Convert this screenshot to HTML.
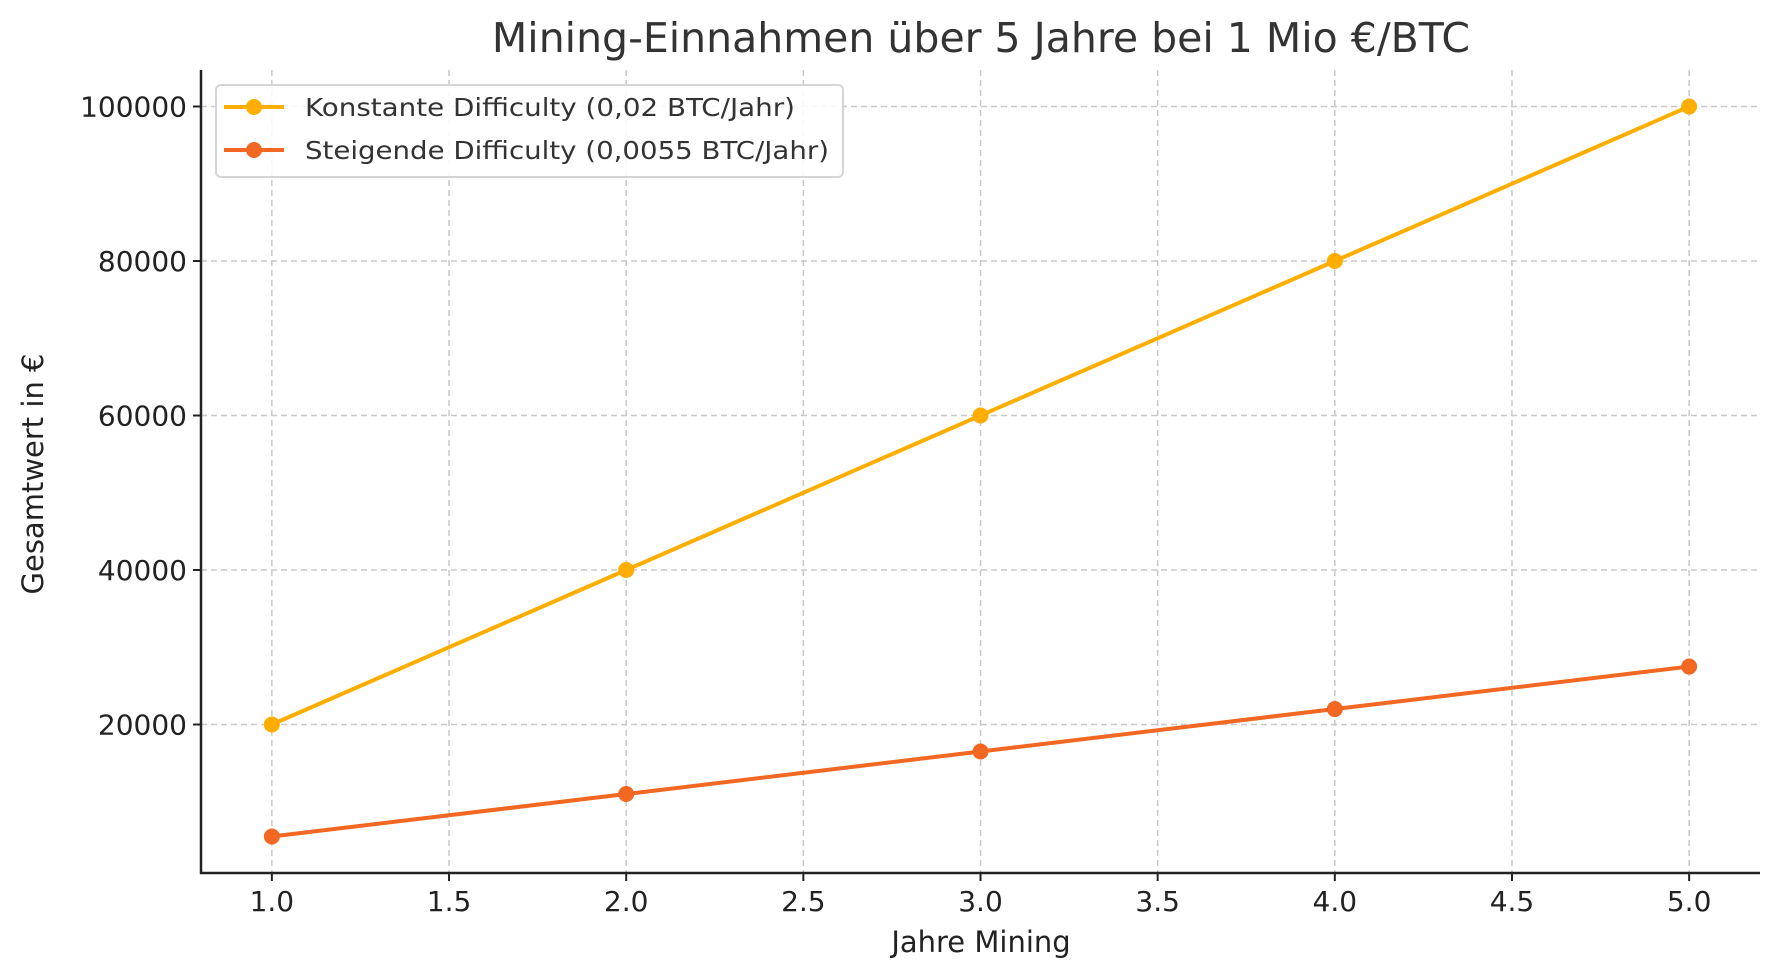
<!DOCTYPE html>
<html><head><meta charset="utf-8"><style>
html,body{margin:0;padding:0;background:#fff;}
svg{display:block;font-family:"DejaVu Sans","Liberation Sans",sans-serif;}
</style></head><body>
<svg id="chart" width="1779" height="980" viewBox="0 0 1779 980">
<rect x="0" y="0" width="1779" height="980" fill="#fff"/>
<text x="981" y="52" font-size="41" text-anchor="middle" fill="#333">Mining-Einnahmen über 5 Jahre bei 1 Mio €/BTC</text>
<g id="grid"></g>
<g id="series"></g>
<g id="axes"></g>
<text x="981" y="952" font-size="29" text-anchor="middle" fill="#222">Jahre Mining</text>
<text x="0" y="0" font-size="29" text-anchor="middle" fill="#222" transform="translate(43,474) rotate(-90)">Gesamtwert in €</text>
<g>
<rect x="216" y="85" width="627" height="92" rx="5" fill="#fff" fill-opacity="0.85" stroke="#d5d5d5" stroke-width="2"/>
<g>
<line x1="224" y1="107" x2="284" y2="107" stroke="#ffae00" stroke-width="4"/>
<circle cx="254" cy="107" r="8" fill="#ffae00"/>
<text x="305" y="116" font-size="25" fill="#333" textLength="490" lengthAdjust="spacingAndGlyphs">Konstante Difficulty (0,02 BTC/Jahr)</text>
</g>
<g>
<line x1="224" y1="150" x2="284" y2="150" stroke="#f26722" stroke-width="4"/>
<circle cx="254" cy="150" r="8" fill="#f26722"/>
<text x="305" y="159" font-size="25" fill="#333" textLength="524" lengthAdjust="spacingAndGlyphs">Steigende Difficulty (0,0055 BTC/Jahr)</text>
</g>
</g>
</svg>
<script>
const years = [1, 2, 3, 4, 5];
const konstant = [20000, 40000, 60000, 80000, 100000];
const steigend = [5500, 11000, 16500, 22000, 27500];
const xTicks = [1.0, 1.5, 2.0, 2.5, 3.0, 3.5, 4.0, 4.5, 5.0];
const yTicks = [20000, 40000, 60000, 80000, 100000];

const L = 201, R = 1760, T = 70, B = 873;
const xMin = 0.8, xMax = 5.2, yMin = 775, yMax = 104725;
const NS = 'http://www.w3.org/2000/svg';
function sx(v){ return L + (v - xMin) / (xMax - xMin) * (R - L); }
function sy(v){ return B - (v - yMin) / (yMax - yMin) * (B - T); }
function mk(tag, attrs, parent){ const e = document.createElementNS(NS, tag); for (const k in attrs) e.setAttribute(k, attrs[k]); parent.appendChild(e); return e; }

const grid = document.getElementById('grid');
const axes = document.getElementById('axes');
const series = document.getElementById('series');

xTicks.forEach(t => {
  const x = sx(t);
  const g = mk('line', {x1:x, y1:T, x2:x, y2:B, stroke:'#c8c8c8', 'stroke-width':1.5, 'stroke-dasharray':'6,4'}, grid);
  
  
  const tk = mk('line', {x1:x, y1:B, x2:x, y2:B+8, stroke:'#222', 'stroke-width':2}, axes);
  
  
  const lb = mk('text', {x:x, y:B+38, 'font-size':28, 'text-anchor':'middle', fill:'#222'}, axes);
  lb.textContent = t.toFixed(1);
  
  
});
yTicks.forEach(t => {
  const y = sy(t);
  const g = mk('line', {x1:L, y1:y, x2:R, y2:y, stroke:'#c8c8c8', 'stroke-width':1.5, 'stroke-dasharray':'6,4'}, grid);
  
  
  const tk = mk('line', {x1:L-8, y1:y, x2:L, y2:y, stroke:'#222', 'stroke-width':2}, axes);
  
  
  const lb = mk('text', {x:L-14, y:y+10, 'font-size':28, 'text-anchor':'end', fill:'#222'}, axes);
  lb.textContent = String(t);
  
  
});
const sp1 = mk('line', {x1:L, y1:T, x2:L, y2:B+1, stroke:'#222', 'stroke-width':2.5}, axes);


const sp2 = mk('line', {x1:L-1, y1:B, x2:R, y2:B, stroke:'#222', 'stroke-width':2.5}, axes);



function drawSeries(vals, color, name){
  const pts = years.map((x,i) => sx(x) + ',' + sy(vals[i])).join(' ');
  const pl = mk('polyline', {points:pts, fill:'none', stroke:color, 'stroke-width':4, 'stroke-linejoin':'round'}, series);
  
  
  years.forEach((x,i) => {
    const c = mk('circle', {cx:sx(x), cy:sy(vals[i]), r:8, fill:color}, series);
    
    
  });
}
drawSeries(konstant, '#ffae00', 'konstant');
drawSeries(steigend, '#f26722', 'steigend');
</script>
</body></html>
